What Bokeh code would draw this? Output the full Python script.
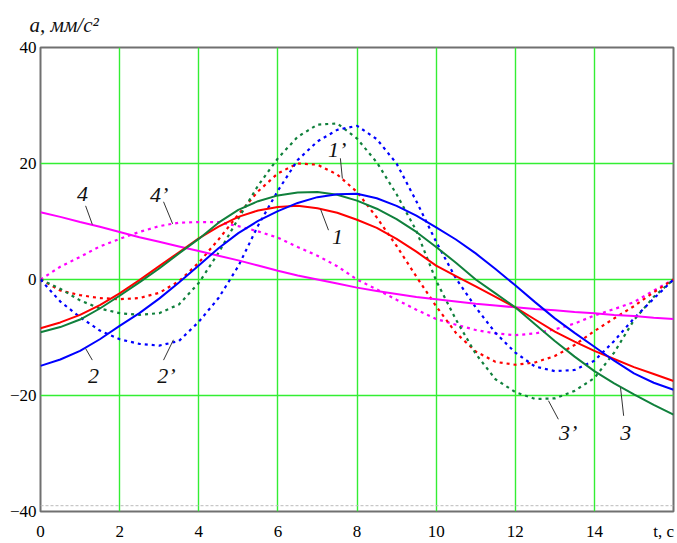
from bokeh.plotting import figure
from bokeh.models import Range1d, FixedTicker, Label, Span
from bokeh.embed import file_html
from bokeh.resources import INLINE

# time, s
t = [0, 0.5, 1, 1.5, 2, 2.5, 3, 3.5, 4, 4.5, 5, 5.5, 6, 6.5, 7, 7.5, 8,
     8.5, 9, 9.5, 10, 10.5, 11, 11.5, 12, 12.5, 13, 13.5, 14, 14.5, 15, 15.5, 16]

# accelerations, mm/s^2
a1 = [-8.4, -7.4, -6.1, -4.4, -2.4, -0.1, 2.3, 4.7, 7.1, 9.1, 10.8, 11.9, 12.5, 12.7, 12.3, 11.5, 10.3,
      8.9, 7.0, 4.8, 2.4, 0.6, -1.2, -3.0, -4.8, -6.9, -9.0, -10.7, -12.3, -13.7, -15.1, -16.3, -17.5]
a1p = [0, -1.9, -2.7, -3.2, -3.4, -3.2, -2.3, -0.3, 2.9, 6.9, 11.2, 15.2, 18.3, 20.0, 19.8, 18.1, 15.1,
       10.7, 5.8, 0.5, -4.6, -9.2, -12.4, -14.2, -14.7, -14.3, -13.2, -11.3, -8.9, -6.7, -4.6, -2.2, 0]
a2 = [-14.9, -13.8, -12.3, -10.3, -8.0, -5.8, -3.3, -0.5, 2.4, 5.4, 8.0, 10.1, 11.8, 13.2, 14.2, 14.7, 14.8,
      14.0, 12.7, 11.0, 9.0, 6.9, 4.5, 1.8, -1.0, -3.9, -6.7, -9.2, -11.6, -14.0, -16.2, -17.8, -19.0]
a2p = [0, -3.8, -6.5, -8.8, -10.3, -11.1, -11.4, -10.6, -7.3, -3.2, 2.3, 9.3, 15.3, 20.6, 23.8, 25.8, 26.5,
       24.2, 20.0, 13.5, 6.5, 0.2, -4.8, -9.2, -12.6, -15.0, -15.8, -15.6, -14.0, -10.6, -6.7, -3.3, 0]
a3 = [-9.1, -8.2, -6.9, -5.0, -2.8, -0.5, 1.9, 4.5, 7.0, 9.8, 12.0, 13.5, 14.5, 15.0, 15.1, 14.6, 13.6,
      12.2, 10.4, 8.2, 5.6, 2.9, 0.0, -2.4, -4.8, -7.7, -10.6, -13.3, -15.8, -17.9, -19.8, -21.6, -23.3]
a3p = [0, -1.6, -3.6, -5.0, -5.8, -6.1, -5.8, -4.3, -0.6, 4.6, 10.5, 16.2, 20.9, 24.6, 26.7, 26.9, 24.3,
       20.2, 14.7, 8.4, -0.2, -6.9, -12.8, -17.2, -19.4, -20.6, -20.5, -19.2, -17.0, -12.6, -7.0, -3.0, 0]
a4 = [11.6, 10.8, 9.9, 9.1, 8.2, 7.3, 6.5, 5.7, 4.9, 4.1, 3.3, 2.4, 1.5, 0.7, 0.0, -0.7, -1.4,
      -2.0, -2.5, -3.0, -3.4, -3.8, -4.2, -4.5, -4.8, -5.1, -5.3, -5.6, -5.8, -6.1, -6.3, -6.6, -6.8]
a4p = [0, 2.2, 3.9, 5.7, 7.0, 8.2, 9.2, 9.8, 9.9, 9.9, 9.2, 8.3, 7.2, 5.6, 4.1, 2.3, 0.0,
       -1.7, -3.5, -5.2, -6.8, -7.8, -8.7, -9.3, -9.6, -9.3, -8.6, -7.6, -6.2, -5.1, -3.9, -1.9, 0]

grid_x = [0, 2, 4, 6, 8, 10, 12, 14]
x_ticks = [0, 2, 4, 6, 8, 10, 12, 14, 15.75]
x_tick_text = {15.75: "t, \u0441"}
y_ticks = [-40, -20, 0, 20, 40]
y_tick_text = {-40: "\u221240", -20: "\u221220", 0: "0", 20: "20", 40: "40"}
y_title = "a, \u043c\u043c/\u0441\u00b2"

RED, BLUE, GREEN, MAG = "#ff0000", "#0000ff", "#10803c", "#ff00ff"

# curve labels: text, x, y, leader start (x, y), leader end (x, y)
curve_labels = [
    ("1", 7.51, 7.4, 7.28, 8.5, 7.08, 12.1),
    ("1\u2019", 7.50, 22.4, 7.58, 20.9, 7.63, 17.4),
    ("4", 1.06, 14.7, 1.14, 12.7, 1.31, 9.5),
    ("4\u2019", 3.00, 14.7, 3.11, 13.4, 3.34, 9.6),
    ("2", 1.34, -16.6, 1.31, -13.9, 1.14, -11.9),
    ("2\u2019", 3.18, -16.6, 3.11, -13.9, 3.36, -10.4),
    ("3\u2019", 13.34, -26.4, 13.09, -24.1, 12.84, -20.9),
    ("3", 14.79, -26.4, 14.74, -23.5, 14.66, -18.6),
]

p = figure(width=677, height=543, output_backend="svg", toolbar_location=None,
           x_range=Range1d(0, 16), y_range=Range1d(-40, 40),
           min_border_left=40, min_border_right=4, min_border_top=47, min_border_bottom=30)

p.title.text = y_title
p.title.align = "left"
p.title.offset = -11
p.title.text_font = "Liberation Serif"
p.title.text_font_style = "italic"
p.title.text_font_size = "21px"
p.title.text_color = "#111111"
p.title.standoff = 21

p.outline_line_color = "#707070"
p.outline_line_width = 2

for ax in (p.xaxis[0], p.yaxis[0]):
    ax.axis_line_color = None
    ax.major_tick_line_color = None
    ax.minor_tick_line_color = None
    ax.major_tick_out = 0
    ax.major_tick_in = 0
    ax.minor_tick_out = 0
    ax.major_label_text_font = "Liberation Serif"
    ax.major_label_text_font_size = "17px"
    ax.major_label_text_color = "#000000"

p.xaxis.ticker = FixedTicker(ticks=x_ticks)
p.xaxis.major_label_overrides = x_tick_text
p.yaxis.ticker = FixedTicker(ticks=y_ticks)
p.yaxis.major_label_overrides = y_tick_text
p.xaxis.major_label_standoff = 10
p.yaxis.major_label_standoff = 4

p.xgrid.ticker = FixedTicker(ticks=grid_x)
p.xgrid.grid_line_color = "#33ee33"
p.ygrid.grid_line_color = "#33ee33"
p.xgrid.grid_line_width = 1.4
p.ygrid.grid_line_width = 1.4

p.add_layout(Span(location=-39, dimension="width", line_color="#bbbbbb",
                  line_dash="3 2", line_width=1))

dash = "3 4"
for ys, col in ((a4p, MAG), (a1p, RED), (a3p, GREEN), (a2p, BLUE)):
    p.line(t, ys, line_color=col, line_width=2.2, line_dash=dash)
for ys, col in ((a4, MAG), (a1, RED), (a3, GREEN), (a2, BLUE)):
    p.line(t, ys, line_color=col, line_width=2)

for txt, lx, ly, sx0, sy0, sx1, sy1 in curve_labels:
    p.segment(x0=[sx0], y0=[sy0], x1=[sx1], y1=[sy1], line_color="#333333", line_width=1)
    p.add_layout(Label(x=lx, y=ly, text=txt, text_align="center", text_baseline="middle",
                       text_font="Liberation Serif", text_font_style="italic",
                       text_font_size="22px", text_color="#111111"))

open("out.html", "w").write(file_html(p, INLINE))
